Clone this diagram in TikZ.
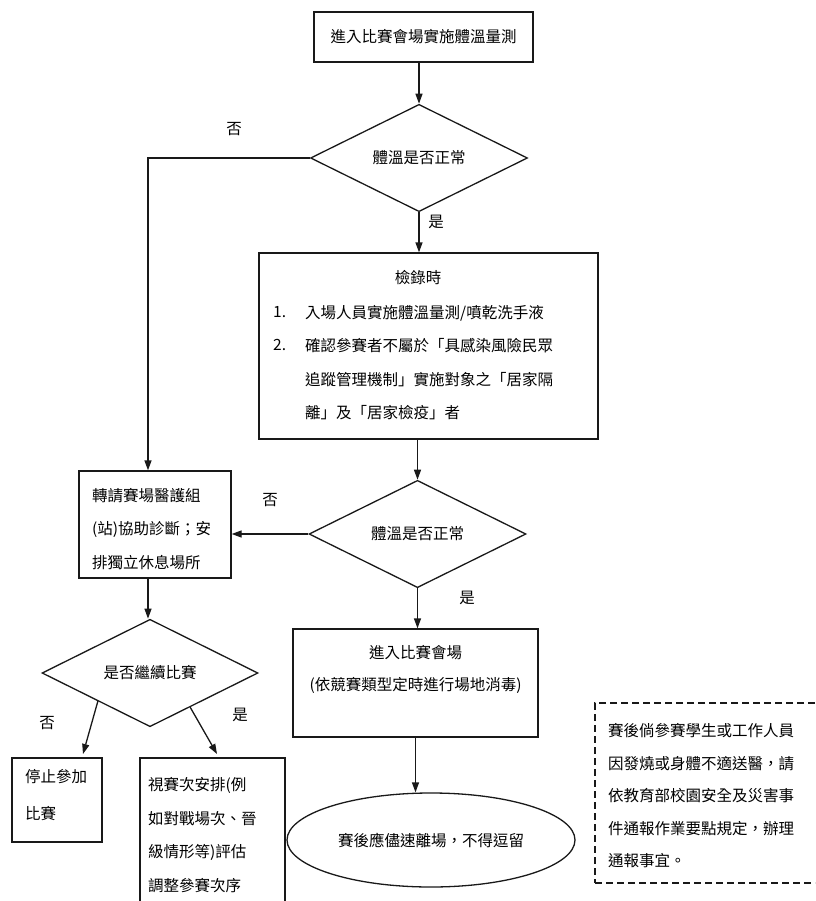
\documentclass[tikz,border=0pt]{standalone}
\usepackage{fontspec}
\setmainfont{Noto Sans CJK TC}
\usetikzlibrary{shapes.geometric,arrows.meta,calc}
\newcommand\myfs{\fontsize{15.5}{33.5}\selectfont}
\begin{document}
\begin{tikzpicture}[x=1pt,y=-1pt,
  line/.style={draw=black!90, line width=1.3pt},
  arr/.style={line, -{Triangle[length=10pt,width=7pt]}},
  box/.style={line, rectangle, inner sep=0pt, font=\myfs},
  dia/.style={line, diamond, inner sep=0pt, font=\myfs},
  txt/.style={inner sep=0pt, font=\myfs, align=left},
  lbl/.style={inner sep=0pt, font=\myfs}]
\useasboundingbox (0,0) rectangle (815,901);
\clip (0,0) rectangle (815,901);
% top box
\node[box, minimum width=219pt, minimum height=50pt] (top) at (423.5,37) {進入比賽會場實施體溫量測};
% decision 1
\node[dia, minimum width=217pt, minimum height=80pt] (d1) at (419,158) {體溫是否正常};
% check box
\node[box, minimum width=339pt, minimum height=186pt] (check) at (428.5,346) {};
\node[lbl] (checkt) at (418,278) {檢錄時};
\node[lbl, anchor=west] (n1) at (273,312) {1.};
\node[lbl, anchor=west] (n2) at (273,345) {2.};
\node[txt, anchor=west] (checkl) at (305,362.5) {入場人員實施體溫量測/噴乾洗手液\\確認參賽者不屬於「具感染風險民眾\\追蹤管理機制」實施對象之「居家隔\\離」及「居家檢疫」者};
% decision 2
\node[dia, minimum width=217pt, minimum height=80pt] (d2) at (417.5,534) {體溫是否正常};
% medical box
\node[box, minimum width=152pt, minimum height=107pt] (med) at (155,524.5) {};
\node[txt, anchor=west] (medt) at (92,529) {轉請賽場醫護組\\(站)協助診斷；安\\排獨立休息場所};
% decision 3
\node[dia, minimum width=216pt, minimum height=80pt] (d3) at (150,673) {是否繼續比賽};
% stop box
\node[box, minimum width=90pt, minimum height=84pt] (stop) at (57,800) {};
\node[txt, anchor=west, font=\fontsize{15.5}{37}\selectfont] (stopt) at (25,795) {停止參加\\比賽};
% adjust box (runs off the bottom)
\node[box, minimum width=145pt, minimum height=200pt] (adj) at (212.5,858) {};
\node[txt, anchor=west] (adjt) at (148,835) {視賽次安排(例\\如對戰場次、晉\\級情形等)評估\\調整參賽次序};
% enter box
\node[box, minimum width=245pt, minimum height=108pt] (enter) at (415.5,683) {};
\node[txt, align=center, font=\fontsize{15.5}{32}\selectfont] (entert) at (415.5,669) {進入比賽會場\\(依競賽類型定時進行場地消毒)};
% end ellipse
\node[line, ellipse, minimum width=288pt, minimum height=94pt, inner sep=0pt, font=\myfs] (end) at (431,840) {賽後應儘速離場，不得逗留};
% dashed note box (runs off the right edge)
\node[line, dashed, dash pattern=on 7pt off 4pt, rectangle, minimum width=240pt, minimum height=180pt, inner sep=0pt] (note) at (715,793) {};
\node[txt, anchor=west, font=\fontsize{15.5}{32.5}\selectfont] (notet) at (608,796) {賽後倘參賽學生或工作人員\\因發燒或身體不適送醫，請\\依教育部校園安全及災害事\\件通報作業要點規定，辦理\\通報事宜。};
% connectors
\coordinate (c1) at (148,158);
\coordinate (e1) at (83,754);
\coordinate (e2) at (217,754);
\draw[arr] (d1.north |- top.south) -- (d1.north);
\draw[arr] (d1.south) -- (d1.south |- check.north);
\draw[arr] (d1.west) -- (c1) -- (c1 |- med.north);
\draw[arr] (d2.north |- check.south) -- (d2.north);
\draw[arr] (d2.west) -- (d2.west -| med.east);
\draw[arr] (d2.south) -- (d2.south |- enter.north);
\draw[arr] (c1 |- med.south) -- (c1 |- d3.north);
\draw[arr] ($(d3.south)!0.48!(d3.west)$) -- (e1);
\draw[arr] ($(d3.south)!0.37!(d3.east)$) -- (e2);
\draw[arr] (enter.south) -- (enter.south |- end.north);
% labels
\node[lbl] (l1) at (234,129) {否};
\node[lbl] (l2) at (436,222) {是};
\node[lbl] (l3) at (270,500) {否};
\node[lbl] (l4) at (467,598) {是};
\node[lbl] (l5) at (47,723) {否};
\node[lbl] (l6) at (240,715) {是};
\end{tikzpicture}
\end{document}
